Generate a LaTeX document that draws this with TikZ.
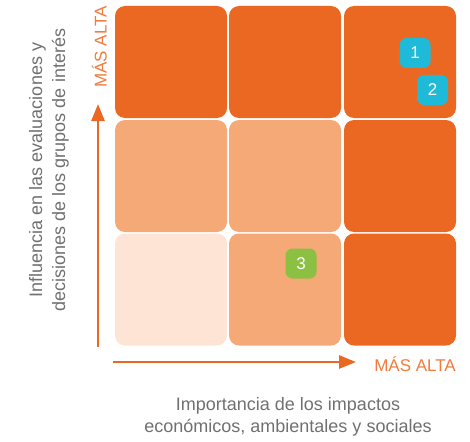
\documentclass[tikz,border=0pt]{standalone}
\usepackage{fontspec}
\setmainfont{Liberation Sans}
\usetikzlibrary{arrows.meta}
\definecolor{dk}{HTML}{EB6822}
\definecolor{md}{HTML}{F5A976}
\definecolor{lt}{HTML}{FDE4D4}
\definecolor{ortxt}{HTML}{F07B3C}
\definecolor{gtxt}{HTML}{707070}
\definecolor{cy}{HTML}{1FBAD8}
\definecolor{gr}{HTML}{8CC043}
\tikzset{
  cell/.style={rectangle, rounded corners=10pt, minimum width=112pt, minimum height=112pt, inner sep=0pt, draw=none},
  badge/.style={rectangle, rounded corners=7pt, minimum width=31pt, minimum height=30pt, inner sep=0pt, text=white, font=\fontsize{17}{17}\selectfont},
  axis/.style={draw=dk, line width=2.6pt, -{Triangle[length=17pt,width=13pt]}},
  hi/.style={text=ortxt, font=\fontsize{17}{17}\selectfont, inner sep=0pt},
  lab/.style={text=gtxt, font=\fontsize{18}{22}\selectfont, align=center, inner sep=0pt}
}
\begin{document}
\begin{tikzpicture}[x=1pt,y=-1pt]
\useasboundingbox (0,0) rectangle (470,441);
% grid
\node[cell, fill=dk] (c11) at (171,62) {};
\node[cell, fill=dk] (c12) at (285,62) {};
\node[cell, fill=dk] (c13) at (400,62) {};
\node[cell, fill=md] (c21) at (171,176) {};
\node[cell, fill=md] (c22) at (285,176) {};
\node[cell, fill=dk] (c23) at (400,176) {};
\node[cell, fill=lt] (c31) at (171,289.5) {};
\node[cell, fill=md] (c32) at (285,289.5) {};
\node[cell, fill=dk] (c33) at (400,289.5) {};
% badges
\node[badge, fill=cy] (b1) at (415,53) {1};
\node[badge, fill=cy] (b2) at (432.5,90) {2};
\node[badge, fill=gr] (b3) at (301,263.5) {3};
% axes
\coordinate (y0) at (98,347);
\coordinate (y1) at (98,104);
\coordinate (x0) at (113,362);
\coordinate (x1) at (356,362);
\draw[axis] (y0) -- (y1);
\draw[axis] (x0) -- (x1);
% labels
\node[hi, anchor=base east] (hx) at (456,371.5) {MÁS ALTA};
\node[hi, rotate=90, anchor=base west] (hy) at (106.5,88) {MÁS ALTA};
\node[lab, anchor=base] (lx1) at (288,410) {Importancia de los impactos};
\node[lab, anchor=base] (lx2) at (288,432) {económicos, ambientales y sociales};
\node[lab, rotate=90, anchor=base] (ly1) at (42,170) {Influencia en las evaluaciones y};
\node[lab, rotate=90, anchor=base] (ly2) at (65,170) {decisiones de los grupos de interés};
\end{tikzpicture}
\end{document}
